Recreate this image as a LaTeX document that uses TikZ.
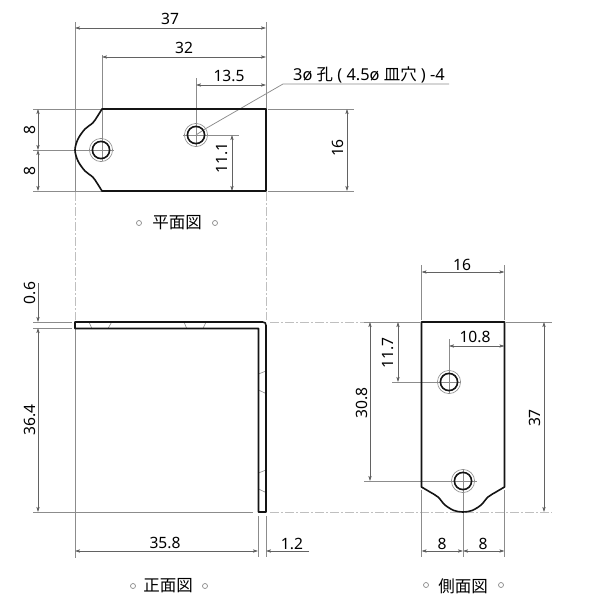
\documentclass[tikz,border=0pt]{standalone}
\usepackage{fontspec}
\setmainfont{Noto Sans}
\newfontfamily\cjkfont{Noto Sans CJK JP}
\usetikzlibrary{arrows.meta}
\definecolor{dimgray}{gray}{0.55}
\definecolor{dashgray}{gray}{0.75}
\definecolor{inkblack}{gray}{0.08}
\tikzset{
  outline/.style={draw=inkblack,line width=1.6pt,line join=round},
  thinmark/.style={draw=dimgray,line width=0.6pt},
  ext/.style={draw=dimgray,line width=0.75pt},
  center/.style={draw=dashgray,line width=0.75pt,dash pattern=on 9pt off 2pt on 2pt off 2pt},
  dimline/.style={draw=dimgray!70!black,line width=0.7pt,{Stealth[length=5pt,width=3.2pt,inset=1pt,fill=black]}-{Stealth[length=5pt,width=3.2pt,inset=1pt,fill=black]}},
  dimend/.style={draw=dimgray!70!black,line width=0.7pt,-{Stealth[length=5pt,width=3.2pt,inset=1pt,fill=black]}},
  dimtext/.style={font=\fontsize{15.6}{16}\selectfont,text=black,inner sep=0pt},
  vtext/.style={dimtext,rotate=90},
  title/.style={font=\cjkfont\fontsize{16.5}{17}\selectfont,text=black,inner sep=0pt},
  bullet/.style={draw=dimgray,line width=0.7pt,fill=white,circle,minimum size=5pt,inner sep=0pt},
}
\newcommand{\holemark}[2]{%
  \draw[outline] (#1,#2) circle[radius=8.6];
  \draw[draw=dimgray,line width=0.6pt] (#1,#2) circle[radius=11.6];
}
\begin{document}
\begin{tikzpicture}[x=1pt,y=-1pt]
\useasboundingbox[fill=white] (0,0) rectangle (600,600);

% ---------- extension lines, top view
\draw[ext] (75,22) -- (75,191);
\draw[ext] (266,22) -- (266,109);
\draw[ext] (102,55) -- (102,161);
\draw[ext] (196,78) -- (196,147);
\draw[ext] (33,109) -- (102,109);
\draw[ext] (33,150) -- (114,150);
\draw[ext] (33,191) -- (102,191);
\draw[ext] (183,135) -- (239,135);
\draw[ext] (268,109) -- (354,109);
\draw[ext] (268,191) -- (354,191);
\draw[center] (75,192) -- (75,320);
\draw[center] (266,192) -- (266,320);

% dimensions, top view
\draw[dimline] (75,28) -- (266,28);
\node[dimtext] (d37) at (170,19) {37};
\draw[dimline] (102,57) -- (266,57);
\node[dimtext] (d32) at (184,48) {32};
\draw[dimline] (196,85) -- (266,85);
\node[dimtext] (d135) at (229,75.5) {13.5};
\draw[dimline] (38,109) -- (38,150);
\draw[dimline] (38,150) -- (38,191);
\node[vtext] (d8a) at (29.5,130) {8};
\node[vtext] (d8b) at (29.5,171) {8};
\draw[dimline] (232,135) -- (232,191);
\node[vtext] (d111) at (222.5,158) {11.1};
\draw[dimline] (347,109) -- (347,191);
\node[vtext] (d16) at (337.5,148) {16};

% leader
\draw[ext] (196,135) -- (205,129) -- (283,84) -- (449,84);
\node[dimtext,font=\fontsize{16.4}{17}\selectfont] (lead) at (369,75) {3ø {\cjkfont 孔} ( 4.5ø {\cjkfont 皿穴} ) -4};

% top view outline
\draw[outline] (266,109) -- (102,109)
  -- plot[smooth,tension=.55] coordinates {(102,109) (97,117) (92.7,123) (85,129) (78,139) (75,150) (78,161) (85,171) (92.7,177) (97,183) (102,191)}
  -- (266,191) -- cycle;
\holemark{101}{150}
\holemark{196}{135}

\node[title] (t1) at (177,223) {平面図};
\node[bullet] (b1a) at (139,223) {};
\node[bullet] (b1b) at (215,223) {};

% ---------- front view
\draw[ext] (75,328) -- (75,558);
\draw[ext] (33,322) -- (72,322);
\draw[ext] (33,328) -- (72,328);
\draw[ext] (33,512) -- (253,512);
\draw[center] (270,512) -- (552,512);
\draw[center] (270,322) -- (420,322);
\draw[ext] (258,516) -- (258,557);
\draw[ext] (266,516) -- (266,557);

\draw[dimend] (38,283) -- (38,322);
\draw[dimline] (38,328) -- (38,512);
\node[vtext] (d06) at (29.5,293) {0.6};
\node[vtext] (d364) at (29.5,420) {36.4};
\draw[dimline] (75,551) -- (258,551);
\node[dimtext] (d358) at (165,543) {35.8};
\draw[dimend] (309,551) -- (266,551);
\node[dimtext] (d12) at (292,544) {1.2};

\draw[thinmark] (89,322) -- (91.7,328) (111.7,322) -- (108.3,328)
  (184,322) -- (186.7,328.5) (206,322) -- (203,328.5)
  (258.5,374) -- (266,371) (258.5,390) -- (266,393.5)
  (258.5,473) -- (266,470) (258.5,489) -- (266,492.5);
\draw[outline] (75,322) -- (262.5,322) .. controls (265,322) and (266,323) .. (266,325.5) -- (266,512) -- (258.5,512) -- (258.5,328.5) -- (75,328.5) -- cycle;

\node[title] (t2) at (168,586) {正面図};
\node[bullet] (b2a) at (133,586) {};
\node[bullet] (b2b) at (205,586) {};

% ---------- side view
\draw[ext] (421.5,265) -- (421.5,320);
\draw[ext] (504.5,265) -- (504.5,320);
\draw[ext] (364,322) -- (420,322);
\draw[ext] (506,322) -- (552,322);
\draw[ext] (449,339) -- (449,394);
\draw[ext] (392,382) -- (461,382);
\draw[ext] (364,481) -- (477,481);
\draw[ext] (463,469) -- (463,557);
\draw[ext] (421.5,490) -- (421.5,557);
\draw[ext] (504.5,490) -- (504.5,557);

\draw[dimline] (421.5,272) -- (504.5,272);
\node[dimtext] (s16) at (462,265) {16};
\draw[dimline] (449,346) -- (504.5,346);
\node[dimtext] (s108) at (475,336.5) {10.8};
\draw[dimline] (398,322) -- (398,382);
\node[vtext] (s117) at (388.5,353) {11.7};
\draw[dimline] (370,322) -- (370,481);
\node[vtext] (s308) at (361.5,403) {30.8};
\draw[dimline] (544,322) -- (544,512);
\node[vtext] (s37) at (534.5,418) {37};
\draw[dimline] (421.5,551) -- (463,551);
\draw[dimline] (463,551) -- (504.5,551);
\node[dimtext] (s8a) at (442,544) {8};
\node[dimtext] (s8b) at (483,544) {8};

\draw[outline] (421.5,322) -- (504.5,322) -- (504.5,487)
  -- plot[smooth,tension=.55] coordinates {(504.5,487) (496,492) (488,497) (481,505) (472,510.5) (463,512) (454,510.5) (445,505) (438,497) (430,492) (421.5,487)}
  -- cycle;
\holemark{449}{382}
\holemark{463}{481}

\node[title] (t3) at (463,586) {側面図};
\node[bullet] (b3a) at (426,585) {};
\node[bullet] (b3b) at (501,585) {};
\end{tikzpicture}
\end{document}
